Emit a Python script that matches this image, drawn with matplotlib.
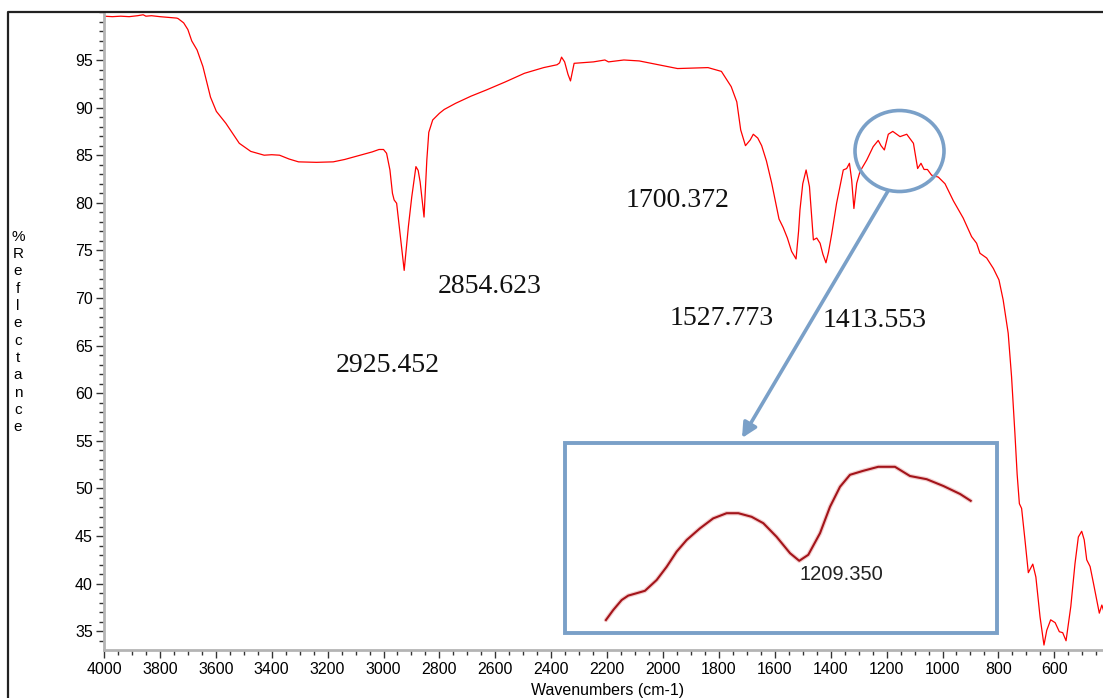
import matplotlib
matplotlib.use("Agg")
import matplotlib.pyplot as plt
from matplotlib.patches import Rectangle, Ellipse, FancyArrowPatch
from matplotlib.lines import Line2D
from matplotlib.ticker import MultipleLocator, FixedLocator

# ---------------- data ----------------
wavenumber = [4000, 3970, 3940, 3910, 3880, 3860, 3850, 3830, 3800, 3780, 3760, 3740,
              3735, 3715, 3700, 3686, 3667, 3646, 3619, 3598, 3564, 3516, 3475, 3427,
              3400, 3372, 3338, 3304, 3240, 3180, 3139, 3084, 3040, 3016, 3000, 2989,
              2977, 2968, 2962, 2953, 2941, 2926, 2911, 2899, 2884, 2876, 2869, 2855,
              2845, 2838, 2824, 2800, 2783, 2742, 2687, 2632, 2564, 2496, 2427, 2379,
              2370, 2363, 2352, 2340, 2331, 2324, 2318, 2249, 2208, 2195, 2140, 2085,
              2016, 1948, 1839, 1791, 1756, 1736, 1722, 1705, 1688, 1677, 1661, 1647,
              1630, 1611, 1585, 1570, 1555, 1540, 1524, 1515, 1510, 1500, 1488, 1476,
              1462, 1450, 1438, 1428, 1417, 1408, 1396, 1379, 1355, 1343, 1333, 1325,
              1317, 1307, 1295, 1271, 1248, 1230, 1220, 1208, 1194, 1178, 1152, 1128,
              1104, 1089, 1077, 1066, 1054, 1039, 1015, 991, 961, 926, 896, 878, 866,
              842, 818, 798, 783, 765, 753, 741, 733, 725, 717, 705, 693, 677, 666, 651,
              637, 627, 613, 597, 582, 570, 558, 541, 526, 514, 502, 493, 484, 472, 460,
              439, 430, 424]
reflectance = [99.6, 99.55, 99.6, 99.55, 99.65, 99.75, 99.6, 99.65, 99.55, 99.5, 99.45, 99.4,
               99.35, 98.9, 98.2, 97.0, 96.05, 94.3, 91.1, 89.6, 88.35, 86.25, 85.4, 85.0,
               85.05, 85.0, 84.6, 84.3, 84.25, 84.3, 84.55, 85.0, 85.35, 85.6, 85.6, 85.2,
               83.45, 81.0, 80.3, 79.95, 76.8, 72.9, 77.5, 80.6, 83.8, 83.4, 82.2, 78.5,
               84.5, 87.4, 88.7, 89.4, 89.8, 90.45, 91.2, 91.85, 92.7, 93.6, 94.2, 94.5,
               94.7, 95.3, 94.8, 93.5, 92.8, 93.8, 94.65, 94.8, 95.0, 94.8, 95.0, 94.9,
               94.5, 94.1, 94.2, 93.8, 92.2, 90.6, 87.65, 86.0, 86.6, 87.2, 86.8, 86.0,
               84.4, 82.05, 78.3, 77.4, 76.3, 74.9, 74.1, 77.0, 79.25, 82.0, 83.45, 81.7,
               76.1, 76.3, 75.75, 74.6, 73.7, 74.8, 76.8, 79.95, 83.45, 83.6, 84.15, 82.4,
               79.4, 82.05, 83.3, 84.5, 85.9, 86.55, 86.0, 85.55, 87.2, 87.5, 86.95, 87.2,
               86.25, 83.6, 84.15, 83.5, 83.5, 82.9, 82.7, 82.0, 80.2, 78.4, 76.45, 75.75, 74.7,
               74.2, 73.1, 71.9, 69.8, 66.3, 61.75, 55.8, 51.5, 48.4, 47.9, 44.6, 41.15, 42.05, 40.7, 36.5,
               33.55, 35.1, 36.2, 35.9, 34.95, 34.85, 34.0, 37.6, 42.1, 44.9, 45.5, 44.6, 42.5, 41.8, 40.05,
               36.9, 37.75, 37.2]

y_major_ticks = [35, 40, 45, 50, 55, 60, 65, 70, 75, 80, 85, 90, 95]

peak_labels = ["2925.452", "2854.623", "1700.372", "1527.773", "1413.553"]

inset_wavenumber = [1310, 1306.2, 1301.8, 1298.4, 1294.0, 1289.7, 1283.6, 1278.4, 1273.2,
                    1268.0, 1261.1, 1254.2, 1247.2, 1241.1, 1234.2, 1228.1, 1221.2, 1214.2,
                    1209.4, 1204.7, 1198.6, 1193.4, 1188.2, 1183.0, 1176.1, 1168.3, 1159.6,
                    1151.8, 1143.1, 1134.4, 1125.7, 1120.2]
inset_value = [84.0, 84.25, 84.5, 84.61, 84.67, 84.73, 85.0, 85.33, 85.71, 86.0, 86.29,
               86.54, 86.67, 86.67, 86.58, 86.42, 86.08, 85.67, 85.48, 85.63, 86.17, 86.83,
               87.33, 87.63, 87.73, 87.83, 87.83, 87.6, 87.52, 87.35, 87.15, 86.98]
inset_label = "1209.350"

x_label = "Wavenumbers (cm-1)"
y_label = "%Reflectance"

# ---------------- layout helpers ----------------
W, H = 1103, 698
def fx(x):
    return x / W
def fy(y):
    return 1 - y / H

BLUE = "#7aa0c8"
sans = ["Liberation Sans", "DejaVu Sans"]
serif = ["Liberation Serif", "DejaVu Serif"]

fig = plt.figure(figsize=(W / 100, H / 100), dpi=100)
fig.patch.set_facecolor("white")

ax = fig.add_axes([fx(104), fy(650), 1 - fx(104), (650 - 12) / H])
ax.plot(wavenumber, reflectance, color="#ff0000", lw=0.9)
ax.set_xlim(4000, 425.8)
ax.set_ylim(33.03, 100.04)

for s in ["top", "right"]:
    ax.spines[s].set_visible(False)
for s in ["left", "bottom"]:
    ax.spines[s].set_color("#b4b4b4")
    ax.spines[s].set_linewidth(2)

ax.xaxis.set_major_locator(MultipleLocator(200))
ax.xaxis.set_minor_locator(MultipleLocator(50))
ax.yaxis.set_major_locator(FixedLocator(y_major_ticks))
ax.yaxis.set_minor_locator(MultipleLocator(1))
ax.tick_params(which="major", direction="out", length=6, width=1, color="#333333",
               labelsize=11.5, pad=3)
ax.tick_params(which="minor", direction="out", length=3.5, width=1, color="#333333")
ax.tick_params(axis="y", pad=2)
for lab in ax.get_xticklabels() + ax.get_yticklabels():
    lab.set_fontfamily(sans)

# outer frame
fig.add_artist(Line2D([fx(8), fx(8), fx(1103)], [fy(698), fy(12), fy(12)],
                      color="#222222", lw=1.6, transform=fig.transFigure))

# axis labels
fig.text(fx(18), fy(332), "\n".join(list(y_label)), ha="center", va="center",
         fontsize=11, linespacing=1.3, family=sans)
fig.text(fx(608), fy(690), x_label, ha="center", va="center", fontsize=11.5, family=sans)

# peak annotations
label_pos = [(388, 372), (490, 293), (678, 207), (722, 325), (875, 327)]
for txt, (px, py) in zip(peak_labels, label_pos):
    fig.text(fx(px), fy(py), txt, ha="center", va="baseline", fontsize=20, family=serif,
             color="#111111")

# ellipse and arrow
fig.add_artist(Ellipse((fx(899.5), fy(151)), 89 / W, 81 / H, transform=fig.transFigure,
                       fill=False, edgecolor=BLUE, lw=2.6))
fig.add_artist(FancyArrowPatch((fx(888), fy(191)), (fx(742), fy(438)),
                               transform=fig.transFigure, arrowstyle="-|>",
                               mutation_scale=22, lw=2.6, color=BLUE,
                               shrinkA=0, shrinkB=0))

# inset box
fig.add_artist(Rectangle((fx(565), fy(633)), 432 / W, 190 / H, transform=fig.transFigure,
                         facecolor="white", edgecolor=BLUE, lw=2.8, zorder=3))
iax = fig.add_axes([fx(565), fy(633), 432 / W, 190 / H], zorder=5)
iax.patch.set_visible(False)
iax.axis("off")
iax.set_xlim(1331.3, 1106.5)
iax.set_ylim(83.675, 88.425)
iax.plot(inset_wavenumber, inset_value, color="#f4d0d0", lw=3.2, solid_capstyle="round")
iax.plot(inset_wavenumber, inset_value, color="#a3141a", lw=1.5)
iax.text(1187.7, 85.125, inset_label, ha="center", va="center", fontsize=14.5,
         family=sans, color="#222222")

fig.savefig("out.png", dpi=100)
